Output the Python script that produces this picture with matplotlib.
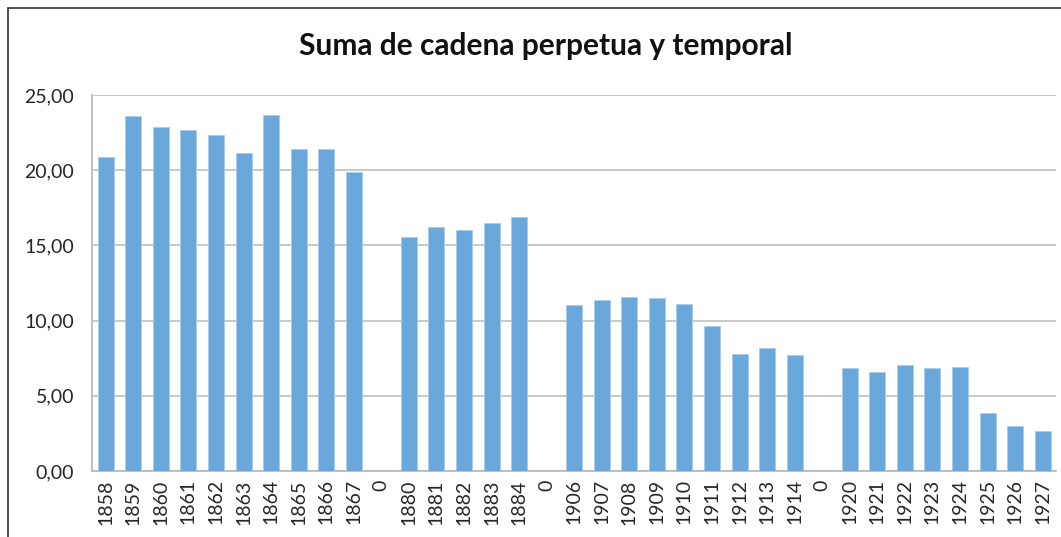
import numpy as np
import matplotlib.pyplot as plt
from matplotlib.patches import Rectangle
from matplotlib.ticker import FuncFormatter

years = ['1858', '1859', '1860', '1861', '1862', '1863', '1864', '1865', '1866', '1867',
         '0', '1880', '1881', '1882', '1883', '1884',
         '0', '1906', '1907', '1908', '1909', '1910', '1911', '1912', '1913', '1914',
         '0', '1920', '1921', '1922', '1923', '1924', '1925', '1926', '1927']
valores = [20.88, 23.60, 22.87, 22.67, 22.34, 21.14, 23.67, 21.40, 21.40, 19.88,
           0, 15.56, 16.24, 16.05, 16.47, 16.91,
           0, 11.02, 11.37, 11.59, 11.50, 11.08, 9.64, 7.80, 8.20, 7.69,
           0, 6.83, 6.56, 7.05, 6.83, 6.91, 3.84, 2.97, 2.68]
yticks = [0, 5, 10, 15, 20, 25]

plt.rcParams['font.family'] = ['Lato', 'DejaVu Sans']

fig = plt.figure(figsize=(10.61, 5.37), dpi=100)
ax = fig.add_axes([0.0867, 0.1229, 0.909, 0.7001])

x = np.arange(len(years))
ax.bar(x, valores, width=0.58, color='#6aa8db', edgecolor='#a9cdee', linewidth=0.6, zorder=3)

ax.set_xlim(-0.5, len(years) - 0.5)
ax.set_ylim(0, 25)
ax.set_yticks(yticks)
ax.yaxis.set_major_formatter(FuncFormatter(lambda v, p: f'{v:.2f}'.replace('.', ',')))
ax.set_xticks(x)
ax.set_xticklabels(years, rotation=90)
ax.tick_params(axis='both', length=0, labelsize=14, colors='#262626')
ax.tick_params(axis='y', pad=13)
ax.tick_params(axis='x', pad=6)
ax.grid(axis='y', color='#c0c0c0', linewidth=1.2, zorder=0)

for s in ['top', 'right']:
    ax.spines[s].set_visible(False)
for s in ['left', 'bottom']:
    ax.spines[s].set_color('#b5b5b5')
    ax.spines[s].set_linewidth(1.2)

fig.text(0.514, 0.915, 'Suma de cadena perpetua y temporal', ha='center', va='center',
         fontsize=21.5, fontweight='bold', color='#111111')

fig.patches.append(Rectangle((8 / 1061, -0.1), 1.2, 1 - 8 / 537 + 0.1,
                             transform=fig.transFigure, fill=False,
                             edgecolor='#333333', linewidth=1.2))

fig.savefig('out.png', dpi=100)
